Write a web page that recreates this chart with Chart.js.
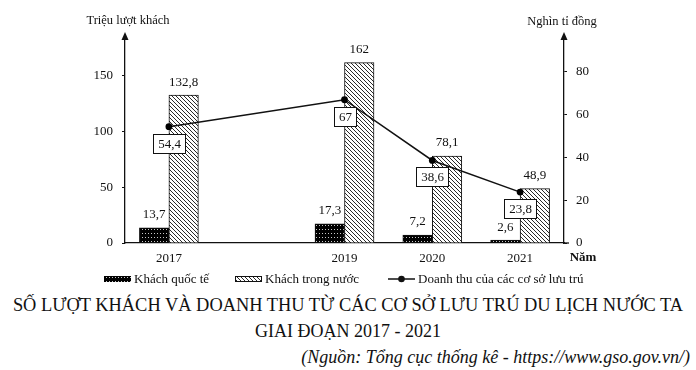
<!DOCTYPE html>
<html>
<head>
<meta charset="utf-8">
<script src="https://cdn.jsdelivr.net/npm/chart.js@4/dist/chart.umd.min.js"></script>
<style>
  html, body { margin: 0; padding: 0; background: #fff; }
  #wrap { position: relative; width: 696px; height: 370px; overflow: hidden;
          font-family: "Liberation Serif", "Times New Roman", serif; color: #111; }
  #chart { position: absolute; left: 0; top: 0; }
  .cap { position: absolute; white-space: nowrap; line-height: 1; }
  #t1 { left: 0; width: 696px; text-align: center; top: 296px; font-size: 18.4px; }
  #t2 { left: 0; width: 696px; text-align: center; top: 322px; font-size: 18px; }
  #src { right: 6px; top: 348px; font-size: 18px; font-style: italic; }
</style>
</head>
<body>
<div id="wrap">
  <canvas id="chart" width="696" height="290"></canvas>
  <div class="cap" id="t1">SỐ LƯỢT KHÁCH VÀ DOANH THU TỪ CÁC CƠ SỞ LƯU TRÚ DU LỊCH NƯỚC TA</div>
  <div class="cap" id="t2">GIAI ĐOẠN 2017 - 2021</div>
  <div class="cap" id="src">(Nguồn: Tổng cục thống kê - https://www.gso.gov.vn/)</div>
</div>
<script>
const years = [2017, 2019, 2020, 2021];
const intlGuests = [13.7, 17.3, 7.2, 2.6];        // triệu lượt khách
const domesticGuests = [132.8, 162, 78.1, 48.9];  // triệu lượt khách
const revenue = [54.4, 67, 38.6, 23.8];           // nghìn tỉ đồng
const leftTicks = [0, 50, 100, 150];
const rightTicks = [0, 20, 40, 60, 80];

const FONT = '"Liberation Serif", "Times New Roman", serif';
const INK = '#111';

Chart.defaults.font.family = FONT;
Chart.defaults.font.size = 13;
Chart.defaults.color = INK;

const fmt = v => String(v).replace('.', ',');
const pairs = vals => years.map((y, i) => ({ x: y, y: vals[i] }));

// fill patterns: black with white specks, and white with "\" hatching
function dotPattern() {
  const c = document.createElement('canvas');
  c.width = 3; c.height = 4;
  const g = c.getContext('2d');
  g.fillStyle = '#000';
  g.fillRect(0, 0, 3, 4);
  g.fillStyle = '#c8c8c8';
  g.fillRect(1, 1, 1, 1);
  return g.createPattern(c, 'repeat');
}

function hatchPattern() {
  const c = document.createElement('canvas');
  c.width = 4; c.height = 4;
  const g = c.getContext('2d');
  g.fillStyle = '#fff';
  g.fillRect(0, 0, 4, 4);
  g.fillStyle = '#2a2a2a';
  for (let i = 0; i < 4; i++) g.fillRect(i, i, 1, 1);
  return g.createPattern(c, 'repeat');
}

const dots = dotPattern();
const hatch = hatchPattern();

function drawArrow(ctx, x, top) {
  ctx.beginPath();
  ctx.moveTo(x, top - 7);
  ctx.lineTo(x - 3.5, top + 1);
  ctx.lineTo(x + 3.5, top + 1);
  ctx.closePath();
  ctx.fill();
}

const annotate = {
  id: 'annotate',
  afterDatasetsDraw(chart) {
    const ctx = chart.ctx;
    ctx.save();
    ctx.font = '13px ' + FONT;
    ctx.textAlign = 'center';
    ctx.textBaseline = 'middle';
    chart.data.datasets.forEach((ds, i) => {
      const meta = chart.getDatasetMeta(i);
      meta.data.forEach((el, j) => {
        const txt = fmt(ds.data[j].y);
        if (ds.type === 'line') {
          const w = Math.round(ctx.measureText(txt).width + 9);
          const h = 19;
          const x = Math.round(el.x - w / 2) + 0.5;
          const y = Math.round(el.y + 7) + 0.5;
          ctx.fillStyle = '#fff';
          ctx.fillRect(x, y, w, h);
          ctx.strokeStyle = INK;
          ctx.lineWidth = 1;
          ctx.strokeRect(x, y, w, h);
          ctx.fillStyle = INK;
          ctx.fillText(txt, x + w / 2, y + h / 2 + 1);
        } else {
          ctx.fillStyle = INK;
          ctx.fillText(txt, el.x, el.y - 13);
        }
      });
    });
    ctx.restore();
  },
  afterDraw(chart) {
    const ctx = chart.ctx;
    const a = chart.chartArea;
    ctx.save();
    ctx.fillStyle = INK;
    ctx.strokeStyle = INK;
    drawArrow(ctx, a.left, a.top);
    drawArrow(ctx, a.right, a.top);

    // x axis runs a little past the right axis
    ctx.lineWidth = 1.3;
    ctx.beginPath();
    ctx.moveTo(a.right, a.bottom);
    ctx.lineTo(a.right + 5, a.bottom);
    ctx.stroke();

    ctx.font = '12.5px ' + FONT;
    ctx.textAlign = 'center';
    ctx.textBaseline = 'middle';
    ctx.fillText('Triệu lượt khách', a.left + 3, 21);
    ctx.fillText('Nghìn tỉ đồng', a.right - 2, 22);

    ctx.font = 'bold 13px ' + FONT;
    ctx.fillText('Năm', 583, 258);

    // legend
    const ly = 279;
    const ds = chart.data.datasets;
    ctx.font = '13px ' + FONT;
    ctx.textAlign = 'left';
    ctx.lineWidth = 1;

    ctx.fillStyle = dots;
    ctx.fillRect(104, ly - 3, 27, 6);
    ctx.fillStyle = INK;
    ctx.fillText(ds[0].label, 134, ly + 1);

    ctx.fillStyle = hatch;
    ctx.fillRect(235, ly - 3, 27, 6);
    ctx.strokeRect(235.5, ly - 2.5, 26, 5);
    ctx.fillStyle = INK;
    ctx.fillText(ds[1].label, 265, ly + 1);

    ctx.lineWidth = 1.5;
    ctx.beginPath();
    ctx.moveTo(388, ly);
    ctx.lineTo(415, ly);
    ctx.stroke();
    ctx.beginPath();
    ctx.arc(401.5, ly, 3.3, 0, Math.PI * 2);
    ctx.fill();
    ctx.fillText(ds[2].label, 418, ly + 1);
    ctx.restore();
  }
};

function draw() {
  new Chart(document.getElementById('chart'), {
    type: 'bar',
    data: {
      datasets: [
        {
          type: 'bar',
          label: 'Khách quốc tế',
          data: pairs(intlGuests),
          yAxisID: 'y',
          backgroundColor: dots,
          borderColor: INK,
          borderWidth: 1,
          barThickness: 29.5,
          order: 1
        },
        {
          type: 'bar',
          label: 'Khách trong nước',
          data: pairs(domesticGuests),
          yAxisID: 'y',
          backgroundColor: hatch,
          borderColor: INK,
          borderWidth: 1,
          barThickness: 29.5,
          order: 1
        },
        {
          type: 'line',
          label: 'Doanh thu của các cơ sở lưu trú',
          data: pairs(revenue),
          yAxisID: 'y1',
          borderColor: INK,
          borderWidth: 1.5,
          pointRadius: 3.4,
          pointBackgroundColor: '#000',
          pointBorderColor: '#000',
          pointBorderWidth: 0,
          tension: 0,
          fill: false,
          order: 0
        }
      ]
    },
    options: {
      responsive: false,
      animation: false,
      layout: { padding: { top: 39, left: 0, right: 0, bottom: 0 } },
      plugins: {
        legend: { display: false },
        tooltip: { enabled: false }
      },
      scales: {
        x: {
          type: 'linear',
          offset: false,
          min: 2016.5,
          max: 2021.5,
          afterBuildTicks: s => { s.ticks = years.map(v => ({ value: v })); },
          afterFit: s => { s.height = 47; },
          grid: { display: false, drawTicks: false, offset: false },
          border: { display: true, color: INK, width: 1.3 },
          ticks: { padding: 8, color: INK, callback: v => String(v), font: { size: 13 } }
        },
        y: {
          type: 'linear',
          position: 'left',
          min: 0,
          max: 183.2,
          afterBuildTicks: s => { s.ticks = leftTicks.map(v => ({ value: v })); },
          afterFit: s => { s.width = 125; },
          grid: { drawOnChartArea: false, drawTicks: true, tickLength: 3, color: INK, lineWidth: 1 },
          border: { display: true, color: INK, width: 1.3 },
          ticks: { padding: 9, color: INK, font: { size: 13 } }
        },
        y1: {
          type: 'linear',
          position: 'right',
          min: 0,
          max: 95.4,
          afterBuildTicks: s => { s.ticks = rightTicks.map(v => ({ value: v })); },
          afterFit: s => { s.width = 132; },
          grid: { drawOnChartArea: false, drawTicks: true, tickLength: 3, color: INK, lineWidth: 1 },
          border: { display: true, color: INK, width: 1.3 },
          ticks: { padding: 9, color: INK, font: { size: 13 } }
        }
      }
    },
    plugins: [annotate]
  });
}

// make sure the serif face is ready before the canvas uses it
Promise.all([
  document.fonts.load('13px "Liberation Serif"'),
  document.fonts.load('bold 13px "Liberation Serif"')
]).then(draw, draw);
</script>
</body>
</html>
